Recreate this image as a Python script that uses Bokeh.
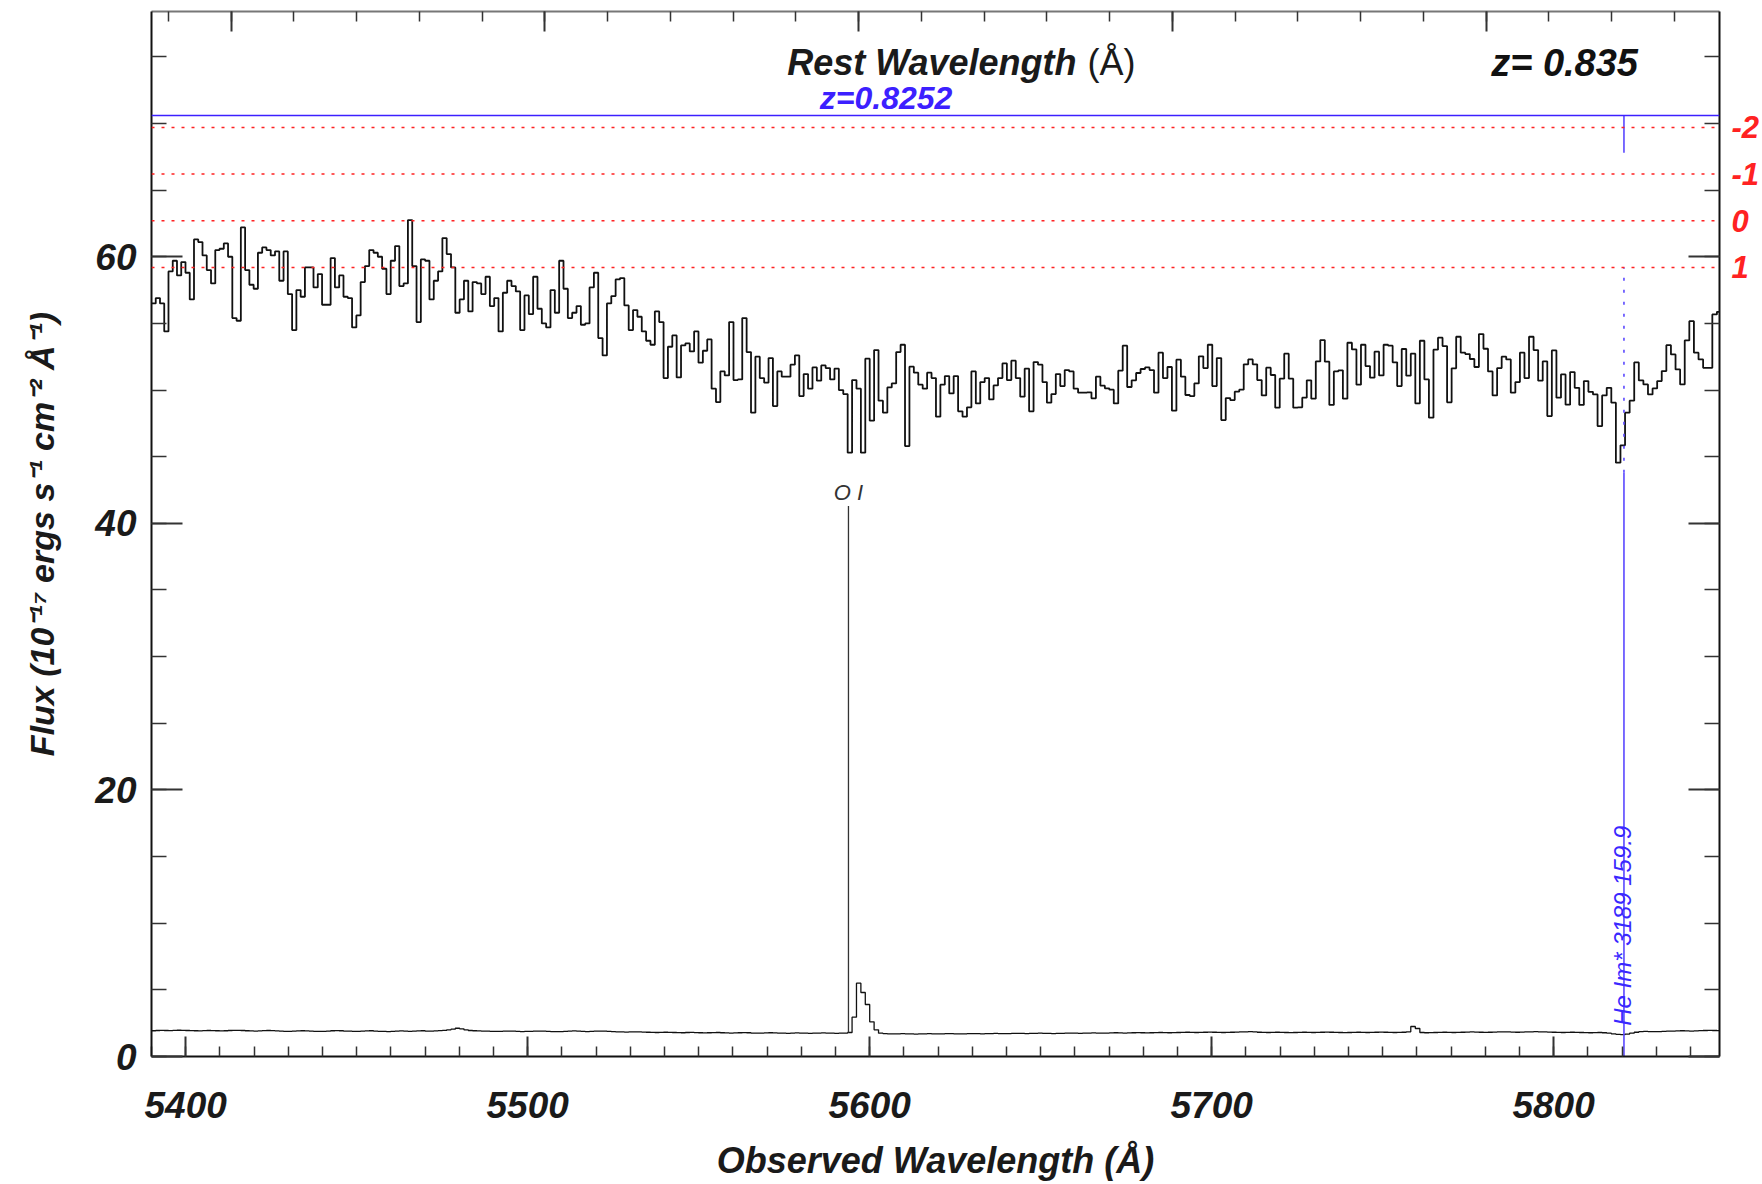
import numpy as np
from bokeh.plotting import figure
from bokeh.models import (Range1d, LinearAxis, SingleIntervalTicker, FixedTicker,
                          Span, Label, CustomLabelingPolicy)
from bokeh.embed import file_html
from bokeh.resources import INLINE

# ---------------- data ----------------
z_qso = 0.835          # redshift shown top-right
z_abs = 0.8252         # absorber redshift (blue)

# SDSS-like log-lambda pixel grid (start wavelength and step)
lam_start = 5390.0
dloglam = 1e-4

# observed flux (10^-17 erg/s/cm^2/A), one value per pixel
flux = [
    56.5, 56.9, 56.5, 54.4, 58.9, 59.7, 58.6, 59.6, 58.8, 56.8,
    61.3, 61.1, 60.1, 59.0, 58.0, 60.5, 60.6, 61.0, 60.0, 55.4,
    55.2, 62.2, 59.0, 57.9, 57.6, 60.3, 60.7, 60.5, 60.1, 60.4,
    58.2, 60.4, 57.2, 54.5, 57.5, 57.0, 59.2, 59.2, 57.7, 58.7,
    56.4, 56.4, 59.9, 57.7, 58.6, 57.0, 56.9, 54.7, 55.6, 58.1,
    59.3, 60.5, 60.3, 60.0, 59.1, 57.2, 59.7, 60.8, 57.8, 58.0,
    62.75, 59.3, 55.1, 59.8, 59.7, 56.8, 58.2, 58.9, 61.4, 60.2,
    59.2, 55.8, 56.8, 58.2, 55.9, 58.1, 58.0, 57.2, 58.5, 56.3,
    56.9, 54.4, 57.3, 58.2, 57.8, 57.4, 54.5, 57.1, 55.7, 58.5,
    56.1, 55.0, 54.7, 57.5, 55.8, 59.7, 57.6, 55.4, 55.8, 56.3,
    54.9, 55.0, 57.7, 58.8, 53.9, 52.6, 56.5,
    57.05, 58.3, 58.4, 56.35, 54.5, 56.0, 55.5, 54.4, 53.7, 53.4,
    55.9, 55.1, 50.9, 53.25, 54.1, 50.95, 53.35, 53.5, 52.9, 54.4,
    52.05, 52.95, 53.8, 50.1, 49.1, 51.4, 51.1, 55.1, 50.75, 50.8,
    55.4, 52.85, 48.3, 52.5, 50.9, 50.55, 52.4, 48.8, 51.4, 51.0,
    51.0, 51.9, 52.6, 49.55, 51.2, 50.1, 51.7, 50.7, 51.85, 51.65,
    50.8, 51.6, 50.0, 49.7, 45.3, 50.75, 50.1, 45.3, 52.35, 47.7,
    53.0, 49.2, 48.3, 50.2, 50.5, 52.85, 53.4, 45.8, 51.75, 51.3,
    50.4, 50.1, 51.3, 50.9, 48.0, 50.4, 51.05, 49.75, 51.05, 48.4,
    48.0, 48.7, 51.4, 49.0, 50.6, 50.9, 49.3, 50.35, 50.9, 52.0,
    50.75, 52.2, 50.9, 49.5, 51.6, 48.4, 52.1, 51.9, 50.6, 49.05,
    49.7, 51.2, 50.3, 51.5, 51.4, 50.1, 49.8, 49.8,
    49.83, 49.38, 51.0, 50.33, 50.13, 50.03, 49.0, 51.45, 53.33, 50.23,
    50.73, 51.28, 51.58, 51.7, 51.5, 49.8, 52.8, 50.9, 51.73, 48.45,
    52.28, 51.0, 49.63, 49.55, 50.5, 52.53, 51.65, 53.4, 50.3, 52.4,
    47.75, 49.4, 49.25, 49.88, 50.03, 51.93, 52.3, 51.93, 50.75, 49.6,
    51.68, 51.13, 48.68, 50.85, 52.73, 50.85, 48.68, 48.7, 49.43, 50.73,
    49.35, 52.15, 53.75, 52.13, 48.88, 51.4, 51.48, 49.35, 53.55, 53.05,
    50.4, 53.4, 51.8, 50.93, 52.88, 51.1, 53.4, 53.33, 52.08, 50.3,
    53.08, 51.08, 52.73, 49.0, 53.7, 50.8, 47.93, 53.03, 53.93, 53.3,
    49.08, 51.63, 54.0, 52.8, 52.7, 52.33, 51.73, 54.2, 53.1, 51.4,
    49.6, 51.65, 52.5, 52.3, 49.8, 50.6, 52.8, 50.9, 54.0, 53.0,
    50.7, 52.15, 48.05,
    52.97, 49.43, 51.17, 48.9, 51.35, 50.17, 48.88, 50.67, 49.87, 49.67,
    47.3, 49.6, 50.17, 49.05, 44.55, 45.85, 48.3, 49.2, 52.07, 50.72,
    50.42, 49.67, 50.12, 50.67, 51.42, 53.37, 52.67, 51.55, 50.42, 53.72,
    55.17, 52.8, 52.3, 51.67, 51.67, 55.67, 55.87,
]

# lower curve (error / sky), one value per pixel
noise = [
    1.93, 1.95, 1.96, 1.95, 1.94, 1.96, 1.97, 1.96, 1.95, 1.94,
    1.93, 1.92, 1.94, 1.95, 1.94, 1.93, 1.92, 1.93, 1.95, 1.96,
    1.96, 1.95, 1.93, 1.92, 1.91, 1.92, 1.94, 1.95, 1.94, 1.92,
    1.90, 1.88, 1.89, 1.91, 1.92, 1.93, 1.92, 1.90, 1.89, 1.88,
    1.89, 1.91, 1.93, 1.94, 1.93, 1.91, 1.90, 1.88, 1.89, 1.91,
    1.92, 1.93, 1.91, 1.89, 1.88, 1.87, 1.89, 1.91, 1.92, 1.90,
    1.89, 1.90, 1.92, 1.93, 1.91, 1.90, 1.92, 1.94, 1.96, 2.00,
    2.05, 2.12, 2.08, 2.00, 1.95, 1.93, 1.92, 1.91, 1.90, 1.89,
    1.88, 1.89, 1.90, 1.91, 1.90, 1.88, 1.87, 1.88, 1.89, 1.90,
    1.91, 1.90, 1.88, 1.87, 1.86, 1.87, 1.89, 1.91, 1.92, 1.90,
    1.88, 1.87, 1.88, 1.90, 1.91, 1.90, 1.88, 1.86, 1.85, 1.84,
    1.83, 1.84, 1.85, 1.84, 1.83, 1.82, 1.81, 1.80, 1.81, 1.82,
    1.81, 1.80, 1.79, 1.78, 1.80, 1.81, 1.79, 1.78, 1.77, 1.78,
    1.79, 1.80, 1.78, 1.77, 1.76, 1.77, 1.78, 1.79, 1.78, 1.76,
    1.75, 1.76, 1.77, 1.78, 1.77, 1.76, 1.75, 1.74, 1.76, 1.77,
    1.76, 1.75, 1.74, 1.75, 1.76, 1.77, 1.76, 1.75, 1.74, 1.75,
    1.76, 1.80, 2.95, 5.50, 4.80, 3.90, 2.60, 2.00, 1.75, 1.72,
    1.70, 1.69, 1.70, 1.71, 1.70, 1.69, 1.68, 1.69, 1.70, 1.71,
    1.70, 1.69, 1.70, 1.72, 1.71, 1.70, 1.69, 1.70, 1.71, 1.72,
    1.71, 1.70, 1.71, 1.72, 1.73, 1.72, 1.71, 1.72, 1.73, 1.74,
    1.73, 1.72, 1.73, 1.74, 1.75, 1.74, 1.73, 1.72, 1.73, 1.74,
    1.75, 1.76, 1.75, 1.74, 1.75, 1.76, 1.77, 1.76, 1.75, 1.76,
    1.77, 1.78, 1.77, 1.76, 1.77, 1.78, 1.79, 1.78, 1.77, 1.78,
    1.79, 1.80, 1.79, 1.78, 1.79, 1.80, 1.81, 1.82, 1.81, 1.80,
    1.81, 1.82, 1.83, 1.82, 1.81, 1.80, 1.81, 1.82, 1.83, 1.84,
    1.85, 1.86, 1.84, 1.82, 1.81, 1.80, 1.81, 1.82, 1.81, 1.80,
    1.79, 1.80, 1.81, 1.82, 1.81, 1.80, 1.81, 1.82, 1.83, 1.82,
    1.81, 1.80, 1.79, 1.80, 1.81, 1.82, 1.81, 1.80, 1.81, 1.82,
    1.83, 1.82, 1.81, 1.80, 1.81, 1.82, 1.85, 2.25, 2.10, 1.80,
    1.78, 1.79, 1.80, 1.81, 1.82, 1.81, 1.80, 1.81, 1.82, 1.83,
    1.84, 1.83, 1.82, 1.81, 1.82, 1.83, 1.84, 1.85, 1.84, 1.83,
    1.82, 1.83, 1.84, 1.85, 1.86, 1.85, 1.84, 1.83, 1.82, 1.81,
    1.80, 1.81, 1.82, 1.81, 1.80, 1.79, 1.78, 1.79, 1.80, 1.78,
    1.75, 1.70, 1.66, 1.64, 1.68, 1.75, 1.82, 1.86, 1.88, 1.87,
    1.86, 1.87, 1.89, 1.90, 1.91, 1.92, 1.93, 1.92, 1.91, 1.92,
    1.94, 1.95, 1.96, 1.95, 1.94,
]

# red reference levels on the right
levels = [69.7, 66.2, 62.7, 59.2]
level_labels = ["-2", "-1", "0", "1"]

# line identifications
oi_obs = 5593.8
oi_label = "O I"
oi_span = (1.8, 41.3)
he_rest = 3189.0
he_obs = he_rest * (1 + z_abs)
he_label = "He Im* 3189 159.9"
z_abs_level = 70.6                 # blue horizontal line
he_top = (67.8, 70.6)
he_dotted = (43.8, 59.2)
he_bottom = (0.0, 43.8)

x_lo, x_hi = 5390.0, 5848.5
y_lo, y_hi = 0.0, 78.4

# ---------------- figure ----------------
FONT = "Liberation Sans"
BLUE = "#3c20ff"
RED = "#ff2222"
INK = "#1a1a1a"

p = figure(width=1762, height=1184,
           x_range=Range1d(x_lo, x_hi), y_range=Range1d(y_lo, y_hi),
           output_backend="svg", toolbar_location=None,
           x_axis_label="Observed Wavelength (Å)",
           y_axis_label="Flux (10⁻¹⁷ ergs s⁻¹ cm⁻² Å⁻¹)")
p.min_border_left = 151
p.min_border_right = 43
p.min_border_top = 11
p.min_border_bottom = 128
p.outline_line_color = None
p.xgrid.visible = False
p.ygrid.visible = False
p.background_fill_color = "white"
p.border_fill_color = "white"

def style_axis(ax, tick_major, tick_minor):
    ax.axis_line_color = "#111111"
    ax.axis_line_width = 2
    ax.major_tick_in = tick_major
    ax.major_tick_out = 0
    ax.minor_tick_in = tick_minor
    ax.minor_tick_out = 0
    ax.major_tick_line_color = "#333333"
    ax.minor_tick_line_color = "#333333"
    ax.major_tick_line_width = 2
    ax.minor_tick_line_width = 1.5
    ax.major_label_text_font = FONT
    ax.major_label_text_font_style = "bold italic"
    ax.major_label_text_font_size = "37px"
    ax.major_label_text_color = INK
    ax.axis_label_text_font = FONT
    ax.axis_label_text_font_style = "bold italic"
    ax.axis_label_text_color = INK

# bottom axis
xa = p.xaxis[0]
style_axis(xa, 20, 10)
xa.ticker = SingleIntervalTicker(interval=100, num_minor_ticks=10)
xa.major_label_standoff = 35
xa.axis_label_standoff = 19
xa.axis_label_text_font_size = "36px"

# left axis
ya = p.yaxis[0]
style_axis(ya, 31, 15)
ya.ticker = SingleIntervalTicker(interval=20, num_minor_ticks=4)
ya.major_label_standoff = 15
ya.axis_label_standoff = 31
ya.axis_label_text_font_size = "34px"

# top axis: rest wavelength ticks (no tick labels)
p.extra_x_ranges = {"rest": Range1d(x_lo / (1 + z_qso), x_hi / (1 + z_qso))}
top = LinearAxis(x_range_name="rest",
                 ticker=SingleIntervalTicker(interval=50, num_minor_ticks=5))
style_axis(top, 20, 10)
top.axis_line_color = "#777777"
top.major_label_text_font_size = "1px"
top.major_label_standoff = 0
top.major_label_policy = CustomLabelingPolicy(code="return []")
p.add_layout(top, "above")

# right axis: ticks only
right = LinearAxis(ticker=SingleIntervalTicker(interval=20, num_minor_ticks=4))
style_axis(right, 31, 15)
right.major_label_text_font_size = "1px"
right.major_label_standoff = 0
right.major_label_policy = CustomLabelingPolicy(code="return []")
p.add_layout(right, "right")

# right axis: red level labels
rlab = LinearAxis(ticker=FixedTicker(ticks=levels),
                  major_label_overrides={lv: lb for lv, lb in zip(levels, level_labels)})
rlab.axis_line_color = None
rlab.major_tick_line_color = None
rlab.minor_tick_line_color = None
rlab.major_tick_in = 0
rlab.major_tick_out = 0
rlab.minor_tick_in = 0
rlab.minor_tick_out = 0
rlab.major_label_standoff = 8
rlab.major_label_text_font = FONT
rlab.major_label_text_font_style = "bold italic"
rlab.major_label_text_font_size = "31px"
rlab.major_label_text_color = RED
p.add_layout(rlab, "right")

# reference lines
for lv in levels:
    p.add_layout(Span(location=lv, dimension="width", line_color=RED,
                      line_dash="3 7", line_width=1.5))
p.add_layout(Span(location=z_abs_level, dimension="width", line_color=BLUE,
                  line_width=1.6))

# spectrum
edges = 10 ** (np.log10(lam_start) + dloglam * np.arange(len(flux) + 1))
p.step(edges, list(flux) + [flux[-1]], mode="after", line_color="#111111", line_width=1.8)
p.step(edges, list(noise) + [noise[-1]], mode="after", line_color="#111111", line_width=1.3)

# O I marker
p.segment(x0=[oi_obs], y0=[oi_span[0]], x1=[oi_obs], y1=[oi_span[1]],
          line_color="#333333", line_width=1.3)
p.add_layout(Label(x=oi_obs, y=42.3, text=oi_label, text_align="center",
                   text_baseline="alphabetic", text_font=FONT,
                   text_font_style="italic", text_font_size="22px", text_color="#333333"))

# He marker
p.segment(x0=[he_obs, he_obs], y0=[he_bottom[0], he_top[0]],
          x1=[he_obs, he_obs], y1=[he_bottom[1], he_top[1]],
          line_color="#5a48ff", line_width=1.6)
p.segment(x0=[he_obs], y0=[he_dotted[0]], x1=[he_obs], y1=[he_dotted[1]],
          line_color="#5a48ff", line_width=1.6, line_dash="3 9")
p.add_layout(Label(x=he_obs - 0.35, y=2.3, text=he_label, angle=90, angle_units="deg",
                   text_align="left", text_baseline="alphabetic", text_font=FONT,
                   text_font_style="italic", text_font_size="24px", text_color="#3a28ff"))

# titles inside the frame
p.add_layout(Label(x=5660.5, y=74.55, text="Rest Wavelength", text_align="right",
                   text_baseline="alphabetic", text_font=FONT,
                   text_font_style="bold italic", text_font_size="36px", text_color=INK))
p.add_layout(Label(x=5663.7, y=74.55, text="(Å)", text_align="left",
                   text_baseline="alphabetic", text_font=FONT,
                   text_font_style="normal", text_font_size="36px", text_color=INK))
p.add_layout(Label(x=5803.2, y=74.5, text="z= " + str(z_qso), text_align="center",
                   text_baseline="alphabetic", text_font=FONT,
                   text_font_style="bold italic", text_font_size="38px", text_color="#111111"))
p.add_layout(Label(x=5604.8, y=71.9, text="z=" + str(z_abs), text_align="center",
                   text_baseline="alphabetic", text_font=FONT,
                   text_font_style="bold italic", text_font_size="32px", text_color=BLUE))

with open("out.html", "w", encoding="utf-8") as f:
    f.write(file_html(p, INLINE))
